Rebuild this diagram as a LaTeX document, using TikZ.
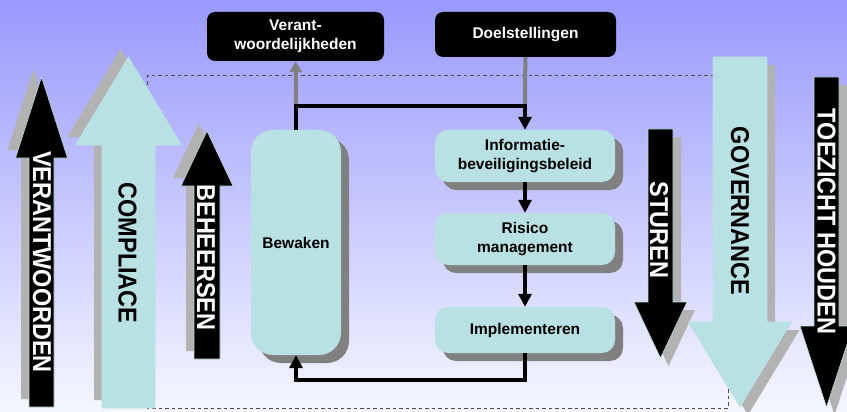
\documentclass[tikz,border=0pt]{standalone}
\usepackage{fontspec}
\setmainfont{Liberation Sans}
\usetikzlibrary{arrows.meta,shadows}

\definecolor{lichtblauw}{RGB}{185,224,227}
\definecolor{paars}{RGB}{153,153,252}
\definecolor{wit}{RGB}{246,246,255}
\definecolor{schaduw}{RGB}{178,178,178}
\definecolor{donkerschaduw}{RGB}{128,128,128}

\tikzset{
	blok/.style={fill=lichtblauw, rounded corners=13pt, inner sep=0pt, align=center,
		font=\fontsize{15.5}{18.5}\selectfont\bfseries,
		drop shadow={shadow xshift=8pt, shadow yshift=-8pt, fill=donkerschaduw, opacity=1}},
	zwartblok/.style={fill=black, text=white, rounded corners=8pt, inner sep=0pt, align=center,
		font=\fontsize{15.5}{18.5}\selectfont\bfseries},
	pijltekst/.style={rotate=-90, yscale=1.1, inner sep=0pt, font=\fontsize{23.5}{24}\selectfont\bfseries},
	lijn/.style={line width=4pt, -{Triangle[width=13pt,length=13pt]}},
	grijslijn/.style={line width=4pt, donkerschaduw}
}

\begin{document}
\begin{tikzpicture}[x=1pt,y=-1pt]
	\useasboundingbox (0,0) rectangle (847,412);
	\shade[top color=paars, bottom color=wit] (0,0) rectangle (847,412);

	\draw[dash pattern=on 3.5pt off 3pt, line width=0.8pt, black!70] (147,75) rectangle (728,408);

	% grote pijlen: midden, halve schacht, halve kop, punt, basis kop, staart
	\foreach \cx/\sw/\hw/\tip/\base/\tail/\kl/\dd in {
		41.5/12.5/26/77/158/407/black/-8,
		128.5/26.5/53/57/145/408/lichtblauw/-8,
		207/13/26/131/186/359/black/-8,
		660.5/12.5/26.5/358/302/129/black/8,
		740/27/51.5/407/322/57/lichtblauw/8,
		826.5/12.5/26.5/407/326/77/black/8}{
		\fill[schaduw, shift={(\dd,\dd)}] (\cx-\sw,\tail) -- (\cx-\sw,\base) -- (\cx-\hw,\base) -- (\cx,\tip) -- (\cx+\hw,\base) -- (\cx+\sw,\base) -- (\cx+\sw,\tail) -- cycle;
		\filldraw[fill=\kl, draw=lichtblauw, line width=0.6pt] (\cx-\sw,\tail) -- (\cx-\sw,\base) -- (\cx-\hw,\base) -- (\cx,\tip) -- (\cx+\hw,\base) -- (\cx+\sw,\base) -- (\cx+\sw,\tail) -- cycle;
	}

	\node[pijltekst, white] (verantwoorden) at (42,262) {VERANTWOORDEN};
	\node[pijltekst] (compliace) at (127.5,253) {COMPLIACE};
	\node[pijltekst, white] (beheersen) at (206,257.5) {BEHEERSEN};
	\node[pijltekst, white] (sturen) at (659,230) {STUREN};
	\node[pijltekst] (governance) at (740,211) {GOVERNANCE};
	\node[pijltekst, white] (toezicht) at (826.5,221.5) {TOEZICHT HOUDEN};

	\node[zwartblok, minimum width=177pt, minimum height=49pt] (verant) at (295.5,36.5) {Verant-\\woordelijkheden};
	\node[zwartblok, minimum width=181pt, minimum height=45pt] (doel) at (525.5,34.5) {Doelstellingen};
	\node[blok, rounded corners=22pt, minimum width=90pt, minimum height=225pt] (bewaken) at (296,242.5) {Bewaken};
	\node[blok, minimum width=180pt, minimum height=52pt] (info) at (525,156) {Informatie-\\beveiligingsbeleid};
	\node[blok, minimum width=180pt, minimum height=52pt] (risico) at (525,239) {Risico\\management};
	\node[blok, minimum width=180pt, minimum height=46pt] (impl) at (525,330) {Implementeren};

	\coordinate (lb) at (296,106);
	\coordinate (rb) at (525,106);
	\coordinate (lo) at (296,380);
	\coordinate (ro) at (525,380);

	\draw[grijslijn] (doel) -- (rb);
	\draw[grijslijn, -{Triangle[width=12pt,length=11pt]}] (lb) -- (verant);
	\draw[lijn] (bewaken) -- (lb) -- (rb) -- (info);
	\draw[lijn] (info) -- (risico);
	\draw[lijn] (risico) -- (impl);
	\draw[lijn] (impl) -- (ro) -- (lo) -- (bewaken);
\end{tikzpicture}
\end{document}
